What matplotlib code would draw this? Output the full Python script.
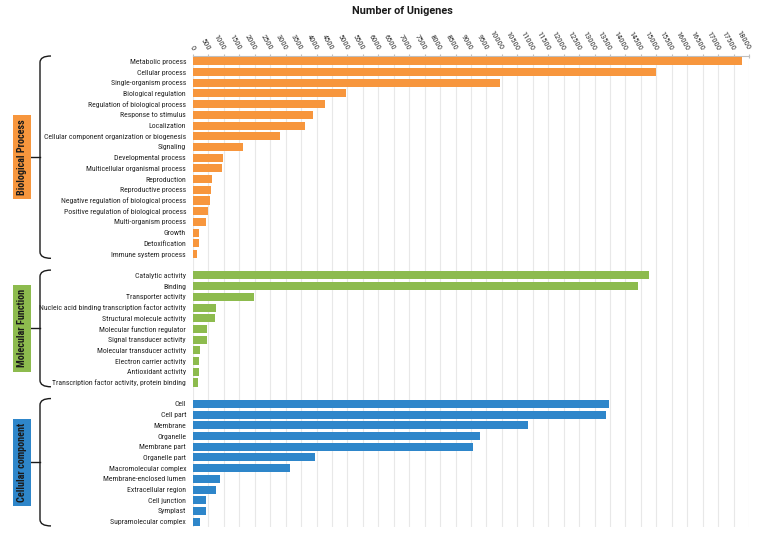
import numpy as np
import matplotlib
matplotlib.use("Agg")
import matplotlib.pyplot as plt
from matplotlib import font_manager
from matplotlib.path import Path
from matplotlib.patches import PathPatch
import matplotlib.transforms as mtransforms

# --- ДАНІ ---
bp_terms = ["Metabolic process", "Cellular process", "Single-organism process",
            "Biological regulation", "Regulation of biological process",
            "Response to stimulus", "Localization",
            "Cellular component organization or biogenesis", "Signaling",
            "Developmental process", "Multicellular organismal process",
            "Reproduction", "Reproductive process",
            "Negative regulation of biological process",
            "Positive regulation of biological process",
            "Multi-organism process", "Growth", "Detoxification",
            "Immune system process"]
bp_counts = [17770, 14980, 9930, 4950, 4280, 3870, 3640, 2830, 1620,
             980, 930, 600, 590, 550, 480, 430, 185, 195, 140]

mf_terms = ["Catalytic activity", "Binding", "Transporter activity",
            "Nucleic acid binding transcription factor activity",
            "Structural molecule activity", "Molecular function regulator",
            "Signal transducer activity", "Molecular transducer activity",
            "Electron carrier activity", "Antioxidant activity",
            "Transcription factor activity, protein binding"]
mf_counts = [14770, 14420, 1970, 760, 720, 455, 445, 240, 195, 195, 175]

cc_terms = ["Cell", "Cell part", "Membrane", "Organelle", "Membrane part",
            "Organelle part", "Macromolecular complex",
            "Membrane-enclosed lumen", "Extracellular region", "Cell junction",
            "Symplast", "Supramolecular complex"]
cc_counts = [13470, 13360, 10860, 9280, 9080, 3950, 3150, 875, 755, 410, 410, 240]

groups = [("Biological Process", bp_terms, bp_counts, "#F7963D"),
          ("Molecular Function", mf_terms, mf_counts, "#8DBB4E"),
          ("Cellular component", cc_terms, cc_counts, "#2E86CA")]

x_ticks = np.arange(0, 18001, 500)

# вузький шрифт, якщо є; інакше Liberation Sans меншого кеглю
installed = {f.name for f in font_manager.fontManager.ttflist}
narrow = None
for cand in ["Liberation Sans Narrow", "DejaVu Sans Condensed", "Roboto Condensed"]:
    if cand in installed:
        narrow = cand
        break
if narrow is not None:
    label_font, lab_size, tick_size = narrow, 5.6, 6.0
else:
    label_font, lab_size, tick_size = "Liberation Sans", 4.9, 5.6

# --- ПОБУДОВА ---
fig = plt.figure(figsize=(7.58, 5.41), dpi=100)
W, H = 758, 541
ax = fig.add_axes([193 / W, 1 - 527 / H, (749 - 193) / W, (527 - 56) / H])

all_pos, all_labels = [], []
spans = []
start = 0
for name, terms, counts, col in groups:
    pos = np.arange(start, start + len(terms))
    ax.barh(pos, counts, height=0.75, color=col, zorder=3)
    all_pos.extend(pos)
    all_labels.extend(terms)
    spans.append((pos[0], pos[-1], name, col))
    start = pos[-1] + 2

ax.set_ylim(start - 2 + 0.5, -0.5)
ax.set_xlim(0, 18000)
ax.set_yticks(all_pos)
ax.set_yticklabels(all_labels, family=label_font, fontsize=lab_size, color="#262626")
ax.tick_params(axis="y", length=0, pad=5)

ax.xaxis.tick_top()
ax.set_xticks(x_ticks)
ax.set_xticklabels([str(v) for v in x_ticks], family=label_font, fontsize=tick_size,
                   color="#333333", rotation=-60, ha="right", va="center",
                   rotation_mode="anchor")
ax.tick_params(axis="x", direction="inout", length=3, color="#bfbfbf", pad=3)
ax.grid(axis="x", color="#e8e8e8", linewidth=0.8, zorder=0)
for s in ["left", "right", "bottom"]:
    ax.spines[s].set_visible(False)
ax.spines["top"].set_color("#bfbfbf")
ax.spines["top"].set_linewidth(0.8)

fig.text(402 / W, 1 - 11 / H, "Number of Unigenes", family=["Roboto", "DejaVu Sans"],
         fontsize=7.8, fontweight="bold", color="#1a1a1a", ha="center", va="center")

# --- Дужки та підписи груп ---
ov = fig.add_axes([0, 0, 1, 1], zorder=-1)
ov.set_xlim(0, W)
ov.set_ylim(H, 0)
ov.axis("off")
trans = mtransforms.blended_transform_factory(ov.transData, ax.transData)

x_line, x_hook, x_notch = 40, 51, 31
r = 0.6
for y0, y1, name, col in spans:
    top = y0 - 0.5
    bot = y1 + 0.4
    mid = (top + bot) / 2
    verts = [(x_hook, top), (x_line, top), (x_line, top + r),
             (x_line, bot - r), (x_line, bot), (x_hook, bot)]
    codes = [Path.MOVETO, Path.CURVE3, Path.CURVE3,
             Path.LINETO, Path.CURVE3, Path.CURVE3]
    ov.add_patch(PathPatch(Path(verts, codes), transform=trans, fill=False,
                           edgecolor="#1a1a1a", linewidth=1.0))
    ov.plot([x_notch, x_line], [mid, mid], color="#1a1a1a", linewidth=1.0,
            transform=trans)
    ov.text(22, mid, name, transform=trans, rotation=90, ha="center", va="center",
            family=[narrow or "Roboto", "DejaVu Sans"], fontsize=7.3,
            fontweight="bold", color="#1a1a1a",
            bbox=dict(boxstyle="square,pad=0.4", facecolor=col, edgecolor="none"))

fig.savefig("out.png", dpi=100)
